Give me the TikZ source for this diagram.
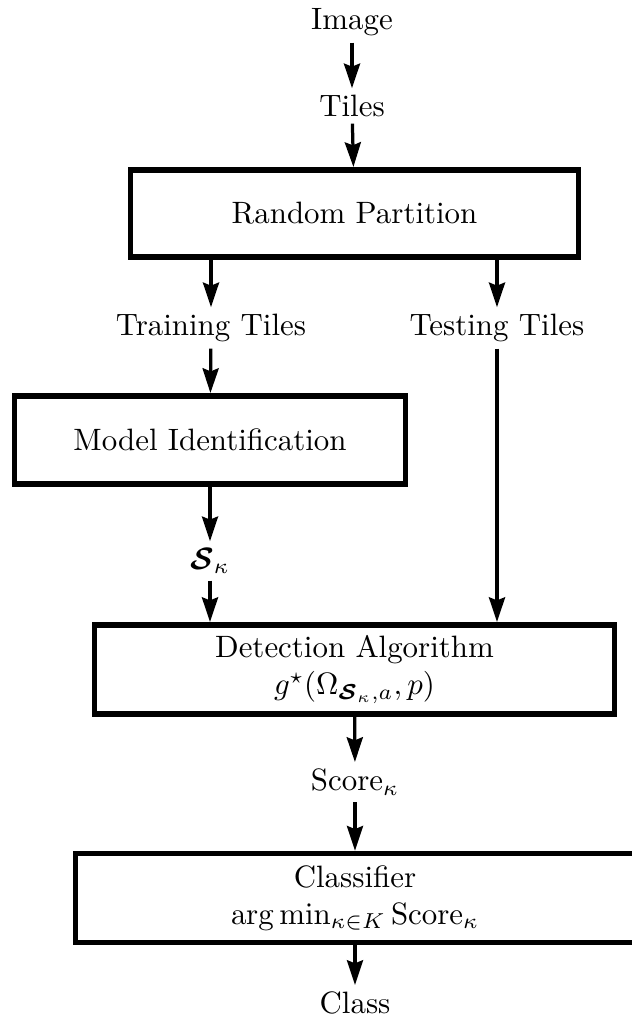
\documentclass[tikz,border=0pt]{standalone}
\usepackage{amsmath,bm}
\usetikzlibrary{arrows.meta, positioning, calc}

\begin{document}
\begin{tikzpicture}[
  x=0.3235pt, y=-0.3235pt,
  procbox/.style={draw=black, line width=1.8pt, align=center, inner sep=0pt},
  lbl/.style={align=center, inner sep=2pt},
  arr/.style={-{Stealth[length=8pt, width=5.2pt, inset=1pt]}, line width=1.05pt}
]
\useasboundingbox (0,0) rectangle (631,1024);
\node[lbl] (image) at (352,22) {Image};
\node[lbl] (tiles) at (352,106) {Tiles};
\node[procbox, minimum width=144.9pt, minimum height=28.3pt] (partition) at (354.5,213.5) {Random Partition};
\node[lbl] (train) at (211,328) {Training Tiles};
\node[lbl] (test) at (497,328) {Testing Tiles};
\node[procbox, minimum width=126.5pt, minimum height=28.6pt] (model) at (210,440) {Model Identification};
\node[lbl] (sk) at (210,561) {$\bm{\mathcal{S}}_\kappa$};
\node[procbox, minimum width=168.2pt, minimum height=28.9pt] (detect) at (354.5,669.5) {Detection Algorithm\\ $g^\star(\Omega_{\bm{\mathcal{S}}_\kappa,a},p)$};
\node[lbl] (score) at (355,782) {Score$_\kappa$};
\node[procbox, minimum width=180.8pt, minimum height=28.8pt] (classify) at (355,898) {Classifier\\ $\arg\min_{\kappa\in K}\mathrm{Score}_\kappa$};
\node[lbl] (class) at (355,1003) {Class};
\foreach \a/\b in {image/tiles, tiles/partition, train/model, model/sk, detect/score, score/classify, classify/class}{
  \draw[arr] (\a) -- (\b);
}
\draw[arr] (partition.south -| train) -- (train.north);
\draw[arr] (partition.south -| test) -- (test.north);
\draw[arr] (sk.south) -- (sk.south |- detect.north);
\draw[arr] (test.south) -- (test.south |- detect.north);
\end{tikzpicture}
\end{document}
